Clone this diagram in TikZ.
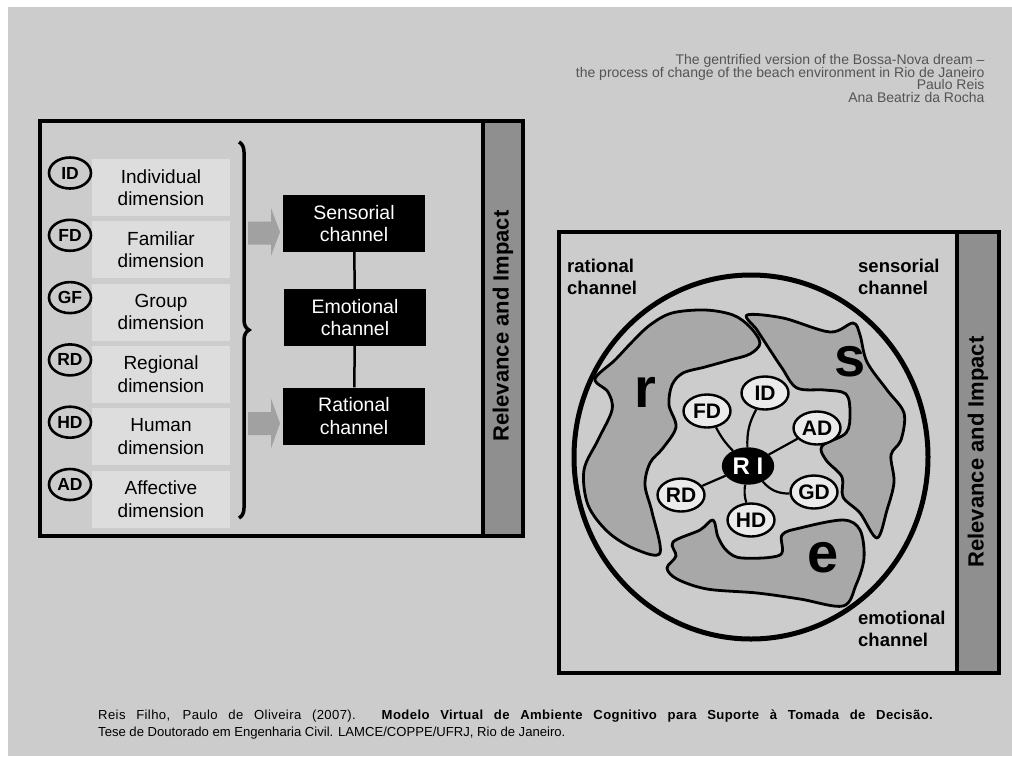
\documentclass[tikz,border=0pt]{standalone}
\usepackage{fontspec}
\setmainfont{Liberation Sans}
\usetikzlibrary{positioning, shapes.geometric, decorations.pathreplacing}
\definecolor{cfond}{gray}{0.80}
\definecolor{clobe}{gray}{0.66}
\definecolor{cbande}{gray}{0.56}
\definecolor{ccartouche}{gray}{0.865}
\definecolor{cbulle}{gray}{0.92}
\definecolor{cfleche}{gray}{0.63}
\definecolor{centete}{gray}{0.33}
\newcommand{\setfs}[2]{\fontsize{#1}{#2}\selectfont}

\begin{document}
\begin{tikzpicture}[x=1pt, y=-1pt,
  dimoval/.style={ellipse, draw, line width=2.6pt, minimum width=42pt,
    minimum height=31pt, inner sep=0pt, font=\bfseries\setfs{17.5}{18}},
  dimbox/.style={fill=ccartouche, minimum width=138pt, minimum height=57pt,
    inner sep=0pt, align=center, font=\setfs{19}{22.5}},
  chanbox/.style={fill=black, text=white, minimum width=142pt,
    minimum height=57pt, inner sep=0pt, align=center, font=\setfs{19.5}{22.5}},
  relev/.style={rotate=90, font=\bfseries\setfs{22}{22}},
  bulle/.style={ellipse, draw, line width=2.4pt, fill=cbulle,
    minimum width=47pt, minimum height=33pt, inner sep=0pt,
    font=\bfseries\setfs{21}{21}},
  canal/.style={anchor=north west, align=left, inner sep=0pt,
    font=\bfseries\setfs{18.5}{22}},
  lettre/.style={font=\bfseries\setfs{56}{56}},
  lobe/.style={fill=clobe, draw, line width=2.8pt, line join=round}]

  % --- fond ---------------------------------------------------------------
  \useasboundingbox (0,0) rectangle (1012,756);
  \fill[white] (0,0) rectangle (1012,756);
  \fill[cfond] (8,7) rectangle (1012,756);

  % --- en-tete ------------------------------------------------------------
  \node[anchor=base east, text=centete, font=\setfs{14}{12.5}] (h1) at (988,64)
       {The gentrified version of the Bossa-Nova dream –};
  \node[anchor=base east, text=centete, font=\setfs{14}{12.5}] (h2) at (988,77)
       {the process of change of the beach environment in Rio de Janeiro};
  \node[anchor=base east, text=centete, font=\setfs{14}{12.5}] (h3) at (988,89.5)
       {Paulo Reis};
  \node[anchor=base east, text=centete, font=\setfs{14}{12.5}] (h4) at (988,102)
       {Ana Beatriz da Rocha};

  % --- panneau gauche -----------------------------------------------------
  \filldraw[fill=cbande, line width=3.5pt] (483,121) rectangle (523,536);
  \draw[line width=4pt] (40,121) rectangle (523,536);
  \node[relev] (relG) at (503,326) {Relevance and Impact};

  \foreach \ab/\nm [count=\i from 0] in {ID/Individual, FD/Familiar,
      GF/Group, RD/Regional, HD/Human, AD/Affective} {
    \node[dimbox] (b\ab) at (161,187.5+62.3*\i) {\nm\\dimension};
    \node[dimoval] (o\ab) at (70,173+62.3*\i) {\ab};
  }

  \draw[decorate, decoration={brace, amplitude=10pt}, line width=3.5pt]
    (239,142) -- (239,518);

  % --- fleches grises -----------------------------------------------------
  \fill[cfleche] (248,221.5) -- (271,221.5) -- (271,208) -- (280,232)
    -- (271,256) -- (271,244.5) -- (248,244.5) -- cycle;
  \fill[cfleche] (248,412) -- (271,412) -- (271,398.5) -- (280,423.5)
    -- (271,448.5) -- (271,435) -- (248,435) -- cycle;

  % --- canaux -------------------------------------------------------------
  \node[chanbox] (sen) at (354,223.5) {Sensorial\\channel};
  \node[chanbox] (emo) at (355,317.5) {Emotional\\channel};
  \node[chanbox] (rat) at (354,416) {Rational\\channel};
  \draw[line width=2.5pt] (sen) -- (emo);
  \draw[line width=2.5pt] (emo) -- (rat);

  % --- panneau droit ------------------------------------------------------
  \filldraw[fill=cbande, line width=3.5pt] (957,232) rectangle (999,673);
  \draw[line width=4pt] (559,232) rectangle (999,673);
  \node[relev] (relD) at (978,452) {Relevance and Impact};

  \node[canal] (lrat) at (567,259) {rational\\channel};
  \node[canal] (lsen) at (858,259) {sensorial\\channel};
  \node[canal] (lemo) at (858,611) {emotional\\channel};

  % --- lobes r, s, e ------------------------------------------------------
  \draw[lobe] plot[smooth cycle, tension=0.55] coordinates {
    (595,379) (615,360) (632,342) (650,325) (672,313) (705,310) (733,315)
    (750,327) (760,343) (750,354) (730,360) (705,367) (683,373) (672,385)
    (669,405) (676,427) (663,448) (650,463) (645,485) (652,512) (660,553)
    (635,549) (608,532) (588,505) (584,470) (598,440) (612,410) (608,392)};
  \draw[lobe] plot[smooth cycle, tension=0.55] coordinates {
    (747,315) (783,318) (830,332) (853,323) (860,335) (867,362) (887,390)
    (904,413) (901,440) (891,455) (894,482) (887,510) (877,538) (860,513)
    (843,497) (842,477) (826,460) (822,446) (846,433) (850,413) (846,394)
    (825,390) (797,388) (782,368) (770,350) (757,330)};
  \draw[lobe] plot[smooth cycle, tension=0.55] coordinates {
    (673,542) (700,530) (713,520) (718,537) (727,551) (742,558) (780,555)
    (782,535) (800,528) (843,520) (860,530) (864,558) (856,585) (843,606)
    (800,599) (757,593) (707,589) (677,579) (667,568) (676,556)};

  \draw[line width=5pt] (751,457) ellipse [x radius=177, y radius=182];

  \node[lettre] (lr) at (645,392) {r};
  \node[lettre] (ls) at (850,362) {s};
  \node[lettre] (le) at (823,558) {e};

  % --- bulles et noyau ----------------------------------------------------
  \node[bulle] (ID) at (765,393) {ID};
  \node[bulle] (FD) at (707,411) {FD};
  \node[bulle] (AD) at (817,428) {AD};
  \node[bulle] (RD) at (681,495) {RD};
  \node[bulle] (GD) at (814,492) {GD};
  \node[bulle] (HD) at (751,520) {HD};
  \node[bulle, fill=black, text=white, minimum width=50pt,
        minimum height=35pt, font=\bfseries\setfs{24}{24}] (RI) at (748,466) {R I};

  \draw[line width=2.2pt] (RI) to[bend left=15] (ID);
  \draw[line width=2.2pt] (RI) to[bend left=8] (FD);
  \draw[line width=2.2pt] (RI) -- (AD);
  \draw[line width=2.2pt] (RI) to[bend right=25] (GD);
  \draw[line width=2.2pt] (RI) -- (RD);
  \draw[line width=2.2pt] (RI) to[bend right=12] (HD);

  % --- reference ----------------------------------------------------------
  \node[anchor=base west, inner sep=0pt,
        font=\setfs{13.1}{16}\addfontfeature{LetterSpace=3}] (ref1) at (98,719)
       {\makebox[835pt][s]{Reis Filho, Paulo de Oliveira (2007). \textbf{Modelo
        Virtual de Ambiente Cognitivo para Suporte à Tomada de Decisão.}}};
  \node[anchor=base west, inner sep=0pt, font=\setfs{13.1}{16}] (ref2) at (98,736)
       {Tese de Doutorado em Engenharia Civil. LAMCE/COPPE/UFRJ, Rio de Janeiro.};
\end{tikzpicture}
\end{document}
